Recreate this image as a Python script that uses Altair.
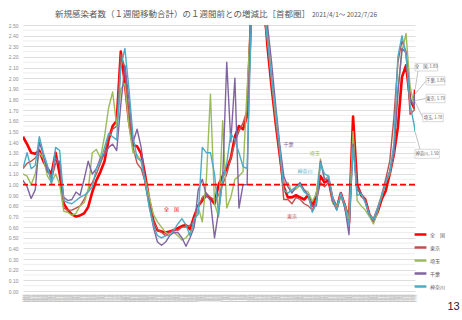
import altair as alt
import pandas as pd

# ---------------- data ----------------
sample_dates = list(pd.date_range("2021-04-01", periods=97, freq="5D").strftime("%Y-%m-%d")) + ["2022-07-26"]

series_names = ["全　国", "東京", "埼玉", "千葉", "神奈川"]
series_colors = ["#ff0000", "#c0504d", "#9bbb59", "#8064a2", "#4bacc6"]

national = [1.45, 1.38, 1.30, 1.29, 1.32, 1.22, 1.15, 1.10, 1.30, 1.10,
            0.82, 0.76, 0.72, 0.70, 0.71, 0.73, 0.79, 0.93, 1.04, 1.12,
            1.22, 1.42, 1.55, 1.60, 2.25, 1.95, 1.60, 1.37, 1.36, 1.29,
            1.08, 0.85, 0.66, 0.57, 0.56, 0.55, 0.56, 0.57, 0.59, 0.61,
            0.62, 0.58, 0.70, 0.80, 0.85, 0.90, 0.87, 0.82, 1.00, 1.08,
            1.15, 1.25, 1.45, 1.55, 1.52, 1.65, 2.60, 3.80, 3.50, 2.80,
            2.30, 1.92, 1.58, 1.28, 0.98, 0.88, 0.88, 0.90, 0.88, 0.86,
            0.90, 0.80, 0.90, 1.08, 1.02, 1.04, 0.85, 0.78, 0.92, 0.80,
            0.64, 1.64, 1.00, 0.90, 0.86, 0.72, 0.66, 0.74, 0.86, 0.94,
            1.10, 1.28, 1.54, 2.01, 2.12, 1.80, 1.72, 1.89]

tokyo = [1.15, 1.20, 1.22, 1.25, 1.30, 1.25, 1.15, 1.05, 1.20, 1.22,
         0.78, 0.76, 0.76, 0.78, 0.80, 0.86, 0.95, 1.02, 1.10, 1.20,
         1.30, 1.45, 1.52, 1.55, 2.22, 2.10, 1.65, 1.35, 1.20, 1.15,
         1.02, 0.82, 0.65, 0.58, 0.55, 0.52, 0.55, 0.58, 0.57, 0.60,
         0.60, 0.62, 0.65, 0.78, 0.88, 0.92, 0.88, 0.86, 0.90, 1.00,
         1.10, 1.25, 1.40, 1.50, 1.58, 1.70, 2.70, 3.60, 3.20, 2.60,
         2.35, 1.95, 1.60, 1.28, 0.86, 0.86, 0.82, 0.88, 0.86, 0.82,
         0.80, 0.76, 0.85, 1.02, 0.98, 1.02, 0.88, 0.80, 0.90, 0.82,
         0.70, 1.45, 0.98, 0.91, 0.86, 0.72, 0.68, 0.78, 0.90, 1.05,
         1.22, 1.62, 2.15, 2.35, 2.25, 1.66, 1.70, 1.79]

saitama = [1.10, 1.08, 1.00, 1.10, 1.30, 1.25, 1.08, 1.02, 1.10, 1.00,
           0.75, 0.74, 0.71, 0.73, 0.80, 0.83, 0.95, 1.30, 1.33, 1.25,
           1.45, 1.72, 1.87, 1.55, 1.90, 1.95, 1.55, 1.30, 1.28, 1.22,
           1.05, 0.88, 0.72, 0.65, 0.60, 0.55, 0.53, 0.55, 0.52, 0.48,
           0.50, 0.55, 0.62, 0.79, 0.65, 1.05, 1.85, 0.82, 0.70, 1.60,
           0.78, 0.88, 1.05, 1.08, 1.12, 1.90, 2.60, 3.90, 3.40, 2.90,
           2.40, 2.00, 1.65, 1.35, 1.00, 1.02, 0.93, 0.96, 0.99, 0.95,
           0.93, 0.84, 0.92, 1.24, 1.05, 1.08, 0.82, 0.80, 0.88, 0.80,
           0.66, 1.50, 0.85, 0.80, 0.76, 0.70, 0.63, 0.74, 0.90, 1.02,
           1.10, 1.30, 1.90, 2.25, 2.42, 1.92, 1.74, 1.78]

chiba = [1.04, 0.98, 0.87, 0.95, 1.40, 1.28, 1.12, 1.08, 1.25, 1.20,
         0.88, 0.85, 0.86, 0.93, 0.90, 1.05, 1.22, 1.10, 1.15, 1.25,
         1.28, 1.35, 1.38, 1.32, 1.75, 2.12, 1.80, 1.40, 1.52, 1.35,
         1.00, 0.80, 0.60, 0.46, 0.43, 0.46, 0.52, 0.55, 0.55, 0.50,
         0.42, 0.50, 0.60, 0.95, 1.05, 0.90, 0.85, 0.50, 0.75, 1.05,
         2.15, 1.40, 2.00, 0.78, 1.00, 1.00, 2.90, 4.20, 3.80, 3.10,
         2.50, 2.15, 1.75, 1.38, 1.08, 0.98, 0.92, 0.98, 1.02, 0.95,
         0.90, 0.80, 0.80, 1.22, 1.05, 1.05, 0.85, 0.76, 0.92, 0.78,
         0.53, 1.38, 0.95, 0.92, 0.84, 0.72, 0.66, 0.76, 0.88, 1.03,
         1.12, 1.28, 1.85, 2.28, 2.24, 1.80, 1.74, 1.85]

kanagawa = [1.15, 1.30, 1.15, 1.18, 1.45, 1.30, 1.18, 1.00, 1.35, 1.32,
            0.85, 0.83, 0.82, 0.85, 0.88, 0.90, 0.93, 0.98, 1.15, 1.22,
            1.35, 1.48, 1.45, 1.42, 2.10, 2.28, 1.90, 1.45, 1.25, 1.22,
            1.02, 0.78, 0.62, 0.52, 0.50, 0.52, 0.52, 0.57, 0.63, 0.68,
            0.62, 0.52, 0.68, 0.72, 1.35, 1.30, 1.30, 1.10, 0.72, 1.05,
            1.20, 1.48, 1.42, 1.30, 1.17, 1.15, 2.50, 3.70, 3.30, 2.70,
            2.35, 2.00, 1.70, 1.35, 0.95, 0.92, 0.95, 0.98, 1.00, 0.93,
            0.90, 0.74, 0.82, 1.20, 1.10, 1.08, 0.88, 0.76, 0.92, 0.80,
            0.62, 1.35, 0.90, 0.91, 0.83, 0.72, 0.67, 0.78, 0.88, 1.02,
            1.12, 1.38, 2.20, 2.40, 2.22, 1.75, 1.56, 1.50]

series_values = [national, tokyo, saitama, chiba, kanagawa]
series_widths = [2.6, 1.4, 1.4, 1.4, 1.4]

y_label_ticks = [round(i * 0.1, 2) for i in range(26)]
y_minor_grid = [round(0.05 + i * 0.1, 2) for i in range(25)]

title_main = "新規感染者数（１週間移動合計）の１週間前との増減比［首都圏］"
title_period = "2021/4/1～ 2022/7/26"
page_number = "13"

# --------------- helpers ---------------
JP = "Noto Sans CJK JP"
W, H = 392, 266

rows = []
for name, vals in zip(series_names, series_values):
    for d, v in zip(sample_dates, vals):
        rows.append({"date": d, "value": v, "series": name})
df = pd.DataFrame(rows)

x_enc = alt.X("date:T", scale=alt.Scale(nice=False),
              axis=alt.Axis(tickCount={"interval": "day", "step": 1}, format="%m/%d",
                            labelAngle=270, labelFontSize=3, labelColor="#c4c4c4",
                            labelOverlap=False, labelBound=False, labelFlush=False,
                            ticks=False, domain=False, grid=False, title=None,
                            labelPadding=3))
y_scale = alt.Scale(domain=[0, 2.5], nice=False)
y_axis = alt.Axis(values=y_label_ticks, format=".2f", title=None, domain=False,
                  ticks=False, labelOverlap=False,
                  labelFontSize=5, labelColor="#8c8c8c", labelPadding=5,
                  gridColor="#d6d6d6", gridWidth=0.8)
y_enc = alt.Y("value:Q", scale=y_scale, axis=y_axis)

legend = alt.Legend(orient="none", legendX=390, legendY=202, title=None,
                    symbolType="stroke", symbolStrokeWidth=2.5, symbolSize=140,
                    labelFontSize=5, labelColor="#595959", labelFont=JP,
                    rowPadding=0, labelOffset=2)
color_enc = alt.Color("series:N", scale=alt.Scale(domain=series_names, range=series_colors),
                      legend=legend)

layers = []
# minor gridlines at the half steps
layers.append(alt.Chart(pd.DataFrame({"value": y_minor_grid})).mark_rule(
    color="#e8e8e8", strokeWidth=0.8).encode(y=y_enc))

for name, w in zip(series_names, series_widths):
    layers.append(
        alt.Chart(df[df["series"] == name]).mark_line(strokeWidth=w, clip=True,
                                                      strokeJoin="round")
        .encode(x=x_enc, y=y_enc, color=color_enc)
    )

# dashed 1.00 reference line
layers.append(alt.Chart(pd.DataFrame({"value": [1.0]})).mark_rule(
    color="#ff0000", strokeDash=[6, 3], strokeWidth=1.6).encode(y=y_enc))

# inline series labels
inline = [("全　国", "#ff0000", 148.5, 184.3), ("千葉", "#8064a2", 265.5, 119),
          ("埼玉", "#9bbb59", 291.8, 127.5), ("神奈川", "#4bacc6", 282, 145.8),
          ("東京", "#c0504d", 269, 190.8)]
for txt, col, px, py in inline:
    layers.append(alt.Chart(pd.DataFrame({"t": [txt]})).mark_text(
        font=JP, fontSize=5, color=col).encode(text="t:N", x=alt.value(px), y=alt.value(py)))

# callout boxes at the end
end_date = sample_dates[-1]
finals = {n: v[-1] for n, v in zip(series_names, series_values)}
callouts = [  # name, box x1, x2, y1, y2, leader end x, y
    ("全　国", 392, 414.7, 38.3, 46, 395, 46),
    ("千葉", 403, 422, 51.7, 60, 403, 56),
    ("東京", 403, 422, 69.3, 77.7, 403, 73.5),
    ("埼玉", 399.7, 420.3, 88.3, 96.7, 399.7, 92.5),
    ("神奈川", 392, 416.3, 124.3, 133.3, 397, 124.3),
]
for name, x1, x2, y1, y2, lx, ly in callouts:
    one = pd.DataFrame({"date": [end_date], "value": [finals[name]],
                        "t": [f"{name}, {finals[name]:.2f}"]})
    layers.append(alt.Chart(one).mark_rule(color="#a6a6a6", strokeWidth=0.7).encode(
        x=x_enc, y=y_enc, x2=alt.value(lx), y2=alt.value(ly)))
    layers.append(alt.Chart(one).mark_rect(fill="white", stroke="#c8c8c8", strokeWidth=0.7).encode(
        x=alt.value(x1), x2=alt.value(x2), y=alt.value(y1), y2=alt.value(y2)))
    layers.append(alt.Chart(one).mark_text(font=JP, fontSize=4.2, color="#595959").encode(
        text="t:N", x=alt.value((x1 + x2) / 2), y=alt.value((y1 + y2) / 2)))

# titles and page number
layers.append(alt.Chart(pd.DataFrame({"t": [title_main]})).mark_text(
    font=JP, fontSize=8.5, color="#595959", align="left", baseline="middle").encode(
    text="t:N", x=alt.value(32), y=alt.value(-11)))
layers.append(alt.Chart(pd.DataFrame({"t": [title_period]})).mark_text(
    font=JP, fontSize=6.5, color="#595959", align="left", baseline="middle").encode(
    text="t:N", x=alt.value(289), y=alt.value(-10.5)))
layers.append(alt.Chart(pd.DataFrame({"t": [page_number]})).mark_text(
    font="Liberation Sans", fontSize=11, color="#262626", baseline="middle").encode(
    text="t:N", x=alt.value(430.5), y=alt.value(282)))

chart = alt.layer(*layers).properties(
    width=W, height=H,
    padding={"left": 23, "top": 25, "right": 47, "bottom": 29},
    autosize=alt.AutoSizeParams(type="none"),
    background="white",
).configure_view(stroke=None).configure_axis(labelFont="Liberation Sans")

chart.save("out.html", embed_options={"renderer": "svg", "actions": False})
